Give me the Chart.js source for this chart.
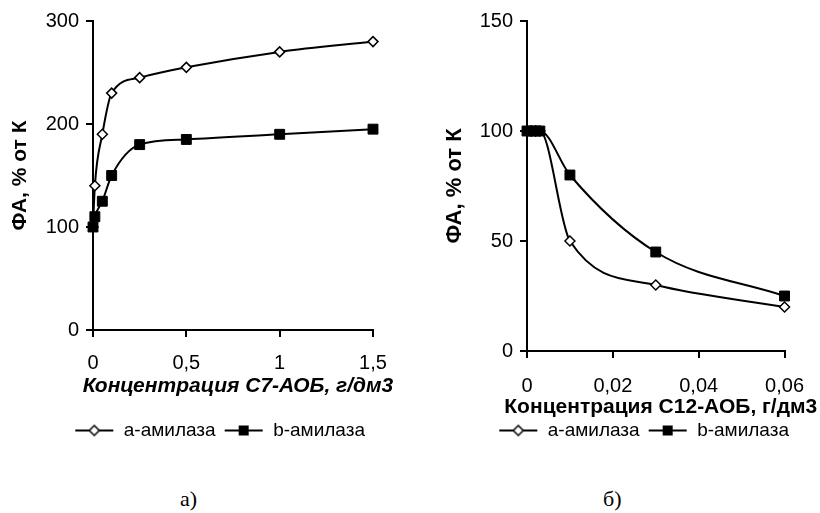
<!DOCTYPE html>
<html>
<head>
<meta charset="utf-8">
<script src="https://cdn.jsdelivr.net/npm/chart.js@4"></script>
<style>
    body { margin: 0; background: #fff; width: 820px; height: 513px; position: relative; overflow: hidden; }
    .panel { position: absolute; top: 0; width: 410px; height: 450px; }
    .caption { position: absolute; top: 486px; font-family: "Liberation Serif", serif; font-size: 22px; color: #000; }
</style>
</head>
<body>
<div class="panel" style="left:0"><canvas id="chartA" width="410" height="450"></canvas></div>
<div class="panel" style="left:410px"><canvas id="chartB" width="410" height="450"></canvas></div>
<div class="caption" style="left:180px">а)</div>
<div class="caption" style="left:603px">б)</div>
<script>
// Data
const seriesNames = ['a-амилаза', 'b-амилаза'];

// а) C7-АОБ
const c7Conc = [0, 0.01, 0.05, 0.1, 0.25, 0.5, 1, 1.5];
const c7Alpha = [100, 140, 190, 230, 245, 255, 270, 280];
const c7Beta = [100, 110, 125, 150, 180, 185, 190, 195];

// б) C12-АОБ
const c12Conc = [0, 0.001, 0.002, 0.003, 0.01, 0.03, 0.06];
const c12Alpha = [100, 100, 100, 100, 50, 30, 20];
const c12Beta = [100, 100, 100, 100, 80, 45, 25];

const yTitle = 'ФА, % от К';
const xTitleA = 'Концентрация С7-АОБ, г/дм3';
const xTitleB = 'Концентрация С12-АОБ, г/дм3';

const FONT = '"Liberation Sans", Arial, sans-serif';

// Legend symbol: short line with the marker in the middle
function legendIcon(style) {
    const c = document.createElement('canvas');
    c.width = 40; c.height = 14;
    const ctx = c.getContext('2d');
    ctx.strokeStyle = '#000';
    ctx.lineWidth = 2;
    ctx.beginPath();
    ctx.moveTo(1, 7); ctx.lineTo(39, 7);
    ctx.stroke();
    if (style === 'diamond') {
        ctx.fillStyle = '#fff';
        ctx.lineWidth = 1.5;
        ctx.beginPath();
        ctx.moveTo(20, 2); ctx.lineTo(25, 7); ctx.lineTo(20, 12); ctx.lineTo(15, 7);
        ctx.closePath();
        ctx.fill(); ctx.stroke();
    } else {
        ctx.fillStyle = '#000';
        ctx.fillRect(15, 2, 10, 10);
    }
    return c;
}
const icons = [legendIcon('diamond'), legendIcon('square')];

// x-axis title drawn by hand: Chart.js squeezes titles to the plot width
const xTitlePlugin = {
    id: 'xTitle',
    afterDraw(chart, args, opts) {
        const ctx = chart.ctx;
        const area = chart.chartArea;
        ctx.save();
        ctx.fillStyle = '#000';
        ctx.font = opts.font;
        ctx.textAlign = 'center';
        ctx.textBaseline = 'middle';
        ctx.fillText(opts.text, (area.left + area.right) / 2 + opts.shift, opts.y);
        ctx.restore();
    }
};

function toPoints(xs, ys) {
    return xs.map((x, i) => ({ x: x, y: ys[i] }));
}

function makeDatasets(xs, alpha, beta) {
    return [
        {
            label: seriesNames[0],
            data: toPoints(xs, alpha),
            borderColor: '#000',
            borderWidth: 2,
            pointStyle: 'rectRot',
            pointRadius: 5,
            pointBackgroundColor: '#fff',
            pointBorderColor: '#000',
            pointBorderWidth: 1.5,
            cubicInterpolationMode: 'monotone',
            clip: false,
            order: 1
        },
        {
            label: seriesNames[1],
            data: toPoints(xs, beta),
            borderColor: '#000',
            borderWidth: 2,
            pointStyle: 'rect',
            pointRadius: 7,
            pointBackgroundColor: '#000',
            pointBorderColor: '#000',
            pointBorderWidth: 1,
            cubicInterpolationMode: 'monotone',
            clip: false,
            order: 0
        }
    ];
}

function commaTick(v) {
    return String(Number(v.toFixed(3))).replace('.', ',');
}

function makeChart(id, xs, alpha, beta, cfg) {
    return new Chart(document.getElementById(id), {
        type: 'line',
        data: { datasets: makeDatasets(xs, alpha, beta) },
        plugins: [xTitlePlugin],
        options: {
            responsive: false,
            animation: false,
            layout: { padding: cfg.padding },
            plugins: {
                tooltip: { enabled: false },
                xTitle: { text: cfg.xTitle, font: cfg.xTitleFont, y: cfg.xTitleY, shift: cfg.xTitleShift },
                legend: {
                    display: true,
                    position: 'bottom',
                    align: 'end',
                    labels: {
                        usePointStyle: true,
                        pointStyleWidth: 40,
                        color: '#000',
                        padding: 8,
                        font: { family: FONT, size: 19 },
                        sort: (a, b) => a.datasetIndex - b.datasetIndex,
                        generateLabels: chart => chart.data.datasets.map((ds, i) => ({
                            text: ds.label,
                            pointStyle: icons[i],
                            fillStyle: '#000',
                            strokeStyle: '#000',
                            lineWidth: 0,
                            fontColor: '#000',
                            hidden: false,
                            datasetIndex: i
                        }))
                    }
                }
            },
            scales: {
                x: {
                    type: 'linear',
                    min: 0,
                    max: cfg.xMax,
                    afterFit: s => { s.height = cfg.xHeight; },
                    ticks: {
                        stepSize: cfg.xStep,
                        color: '#000',
                        padding: cfg.xTickPad,
                        maxRotation: 0,
                        font: { family: FONT, size: 20 },
                        callback: commaTick
                    },
                    grid: { drawOnChartArea: false, drawTicks: true, tickLength: 7, color: '#000', lineWidth: 2 },
                    border: { display: true, color: '#000', width: 2 }
                },
                y: {
                    min: 0,
                    max: cfg.yMax,
                    afterFit: s => { s.width = cfg.yWidth; },
                    ticks: {
                        stepSize: cfg.yStep,
                        color: '#000',
                        padding: 7,
                        font: { family: FONT, size: 20 }
                    },
                    grid: { drawOnChartArea: false, drawTicks: true, tickLength: 7, color: '#000', lineWidth: 2 },
                    border: { display: true, color: '#000', width: 2 },
                    title: {
                        display: true,
                        text: yTitle,
                        color: '#000',
                        font: { family: FONT, size: cfg.yTitleSize, weight: 'bold' },
                        padding: { top: cfg.yTitlePad, bottom: 0 }
                    }
                }
            }
        }
    });
}

makeChart('chartA', c7Conc, c7Alpha, c7Beta, {
    padding: { top: 21, left: 0, right: 37, bottom: 0 },
    xMax: 1.5, xStep: 0.5, xHeight: 83, xTickPad: 14,
    xTitle: xTitleA, xTitleFont: 'italic bold 21px ' + FONT, xTitleY: 386, xTitleShift: 5,
    yMax: 300, yStep: 100, yWidth: 93, yTitleSize: 21, yTitlePad: 8
});

makeChart('chartB', c12Conc, c12Alpha, c12Beta, {
    padding: { top: 21, left: 0, right: 23, bottom: 0 },
    xMax: 0.06, xStep: 0.02, xHeight: 62, xTickPad: 16,
    xTitle: xTitleB, xTitleFont: 'bold 21px ' + FONT, xTitleY: 407, xTitleShift: 5,
    yMax: 150, yStep: 50, yWidth: 117, yTitleSize: 22, yTitlePad: 32
});
</script>
</body>
</html>
